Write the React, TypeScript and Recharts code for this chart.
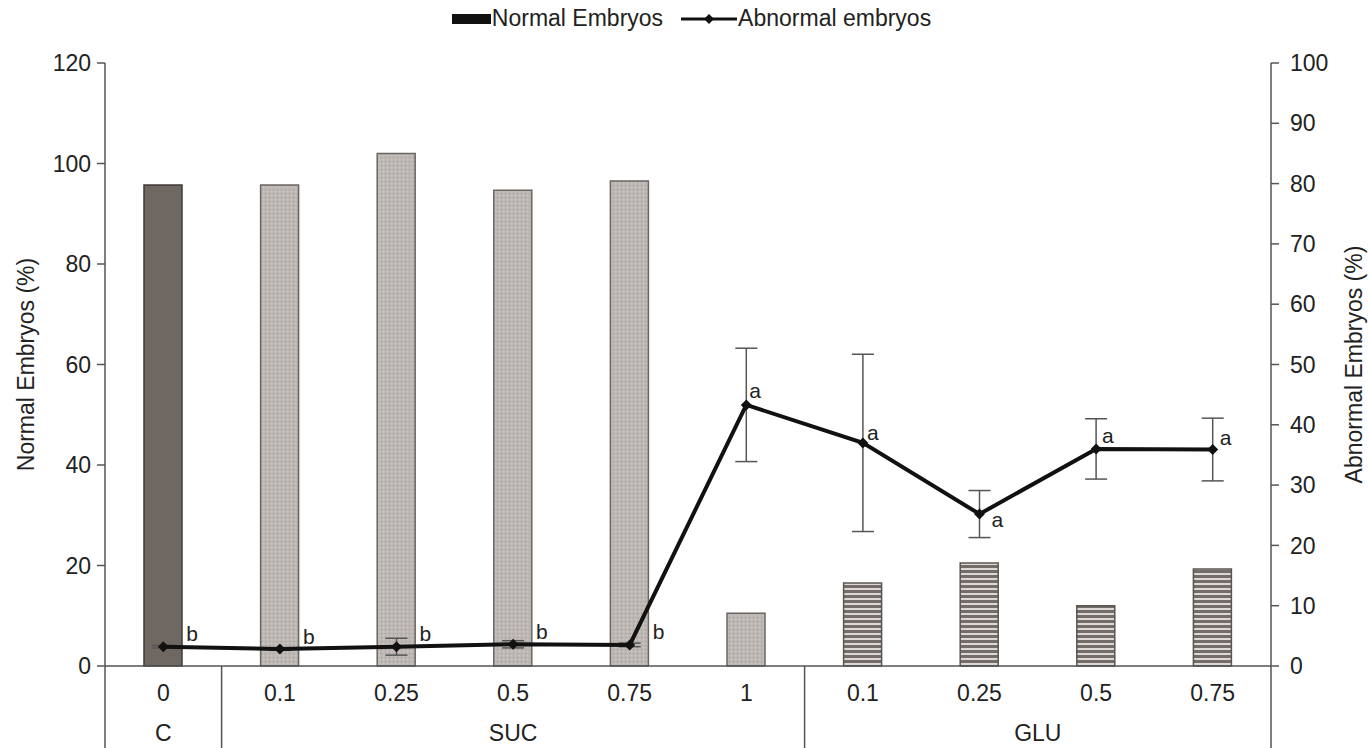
import React from 'react';
import {
  ComposedChart,
  Bar,
  Line,
  XAxis,
  YAxis,
  ErrorBar,
  Cell,
  Legend,
  LabelList
} from 'recharts';

// concentrations on the bottom row, sugar group on the second row
const concentrations = ['0', '0.1', '0.25', '0.5', '0.75', '1', '0.1', '0.25', '0.5', '0.75'];
const sugarGroups = ['C', 'SUC', 'SUC', 'SUC', 'SUC', 'SUC', 'GLU', 'GLU', 'GLU', 'GLU'];
const normalEmbryos = [95.7, 95.7, 102, 94.7, 96.5, 10.5, 16.5, 20.5, 12, 19.3];
const abnormalEmbryos = [3.2, 2.8, 3.2, 3.6, 3.5, 43.3, 37, 25.2, 36, 35.9];
const abnormalError = [0.2, 0.2, 1.4, 0.6, 0.3, 9.4, 14.7, 3.9, 5, 5.2];
const letters = ['b', 'b', 'b', 'b', 'b', 'a', 'a', 'a', 'a', 'a'];
const leftTicks = [0, 20, 40, 60, 80, 100, 120];
const rightTicks = [0, 10, 20, 30, 40, 50, 60, 70, 80, 90, 100];

const W = 1369;
const H = 748;
const LEFT_W = 105;
const RIGHT_W = 98;
const TOP = 63;
const XAXIS_H = 82;
const BAND = (W - LEFT_W - RIGHT_W) / concentrations.length;
const FONT = '"Liberation Sans", Arial, sans-serif';
const FS = 23;
const AXIS_COLOR = '#555';

// letter placement relative to each point (dx, dy)
const LETTER_OFFSETS = [
  [23, -13], [23, -13], [23, -13], [23, -13], [23, -13],
  [3, -14], [4, -10], [12, 5], [6, -13], [7, -12]
];

const groupFill: Record<string, string> = {
  C: '#6f6762',
  SUC: 'url(#dots)',
  GLU: 'url(#stripes)'
};
const groupStroke: Record<string, string> = {
  C: '#3f3a38',
  SUC: '#6a6664',
  GLU: '#5a5552'
};

const data = concentrations.map((c, i) => ({
  key: `${sugarGroups[i]}-${c}`,
  normal: normalEmbryos[i],
  abnormal: abnormalEmbryos[i],
  err: abnormalError[i],
  letter: letters[i]
}));

const CategoryTick = (props: any) => {
  const { x, y, index } = props;
  const group = sugarGroups[index];
  const first = sugarGroups.indexOf(group);
  const count = sugarGroups.filter(g => g === group).length;
  const isLast = index === concentrations.length - 1;
  return (
    <g>
      <text x={x} y={y + 35} textAnchor="middle" fontSize={FS} fontFamily={FONT} fill="#222">
        {concentrations[index]}
      </text>
      {first === index && (
        <>
          <text
            x={x + ((count - 1) / 2) * BAND}
            y={y + 75}
            textAnchor="middle"
            fontSize={FS}
            fontFamily={FONT}
            fill="#222"
          >
            {group}
          </text>
          <line x1={x - BAND / 2} x2={x - BAND / 2} y1={y} y2={H} stroke={AXIS_COLOR} strokeWidth={1.5} />
        </>
      )}
      {isLast && (
        <line x1={x + BAND / 2} x2={x + BAND / 2} y1={y} y2={H} stroke={AXIS_COLOR} strokeWidth={1.5} />
      )}
    </g>
  );
};

const Diamond = (props: any) => {
  const { cx, cy, index } = props;
  if (cx == null || cy == null) return <g key={index} />;
  return (
    <polygon
      key={index}
      points={`${cx},${cy - 5.5} ${cx + 5.5},${cy} ${cx},${cy + 5.5} ${cx - 5.5},${cy}`}
      fill="#111"
    />
  );
};

const LetterLabel = (props: any) => {
  const { x, y, index, value } = props;
  const [dx, dy] = LETTER_OFFSETS[index] || [6, -12];
  return (
    <text
      x={x + dx}
      y={y + dy}
      dominantBaseline="central"
      fontSize={21}
      fontFamily={FONT}
      fill="#222"
    >
      {value}
    </text>
  );
};

const LegendContent = () => (
  <div
    style={{
      display: 'flex',
      justifyContent: 'center',
      alignItems: 'center',
      fontFamily: FONT,
      fontSize: FS,
      color: '#222',
      paddingLeft: 14
    }}
  >
    <svg width={39} height={12} style={{ marginRight: 1 }}>
      <rect x={0} y={1} width={39} height={10} fill="#111" />
    </svg>
    <span>Normal Embryos</span>
    <svg width={74} height={14} style={{ marginRight: 1 }}>
      <line x1={18} x2={74} y1={7} y2={7} stroke="#111" strokeWidth={3} />
      <polygon points="46,2 51,7 46,12 41,7" fill="#111" />
    </svg>
    <span>Abnormal embryos</span>
  </div>
);

const leftTitle = (props: any) => {
  const { viewBox } = props;
  const cx = 26;
  const cy = viewBox.y + viewBox.height / 2;
  return (
    <text
      x={cx}
      y={cy}
      transform={`rotate(-90, ${cx}, ${cy})`}
      textAnchor="middle"
      dominantBaseline="central"
      fontSize={FS}
      fontFamily={FONT}
      fill="#222"
    >
      Normal Embryos (%)
    </text>
  );
};

const rightTitle = (props: any) => {
  const { viewBox } = props;
  const cx = 1354;
  const cy = viewBox.y + viewBox.height / 2;
  return (
    <text
      x={cx}
      y={cy}
      transform={`rotate(-90, ${cx}, ${cy})`}
      textAnchor="middle"
      dominantBaseline="central"
      fontSize={FS}
      fontFamily={FONT}
      fill="#222"
    >
      Abnormal Embryos (%)
    </text>
  );
};

export default function App() {
  return (
    <div style={{ position: 'absolute', left: 0, top: 0, background: '#fff' }}>
      <ComposedChart
        width={W}
        height={H}
        data={data}
        margin={{ top: TOP, right: 0, bottom: 0, left: 0 }}
      >
        <defs>
          <pattern id="dots" width="4" height="4" patternUnits="userSpaceOnUse">
            <rect width="4" height="4" fill="#bfb9b5" />
            <rect x="1" y="1" width="1.2" height="1.2" fill="#a59f9b" />
            <rect x="3" y="3" width="1" height="1" fill="#cdc8c5" />
          </pattern>
          <pattern id="stripes" width="5" height="5" patternUnits="userSpaceOnUse">
            <rect width="5" height="5" fill="#dcd8d5" />
            <rect width="5" height="3" fill="#746c68" />
          </pattern>
        </defs>
        <Legend
          verticalAlign="middle"
          align="center"
          layout="horizontal"
          content={<LegendContent />}
          wrapperStyle={{ top: 5, left: 0, width: W }}
        />
        <XAxis
          dataKey="key"
          height={XAXIS_H}
          tickLine={false}
          tickSize={0}
          tickMargin={0}
          interval={0}
          axisLine={{ stroke: AXIS_COLOR, strokeWidth: 1.5 }}
          tick={<CategoryTick />}
        />
        <YAxis
          yAxisId="left"
          orientation="left"
          width={LEFT_W}
          domain={[0, 120]}
          ticks={leftTicks}
          interval={0}
          tickSize={8}
          tickMargin={6}
          axisLine={{ stroke: AXIS_COLOR, strokeWidth: 1.5 }}
          tickLine={{ stroke: AXIS_COLOR, strokeWidth: 1.5 }}
          tick={{ fontSize: FS, fontFamily: FONT, fill: '#222' }}
          label={leftTitle}
        />
        <YAxis
          yAxisId="right"
          orientation="right"
          width={RIGHT_W}
          domain={[0, 100]}
          ticks={rightTicks}
          interval={0}
          tickSize={8}
          tickMargin={11}
          axisLine={{ stroke: AXIS_COLOR, strokeWidth: 1.5 }}
          tickLine={{ stroke: AXIS_COLOR, strokeWidth: 1.5 }}
          tick={{ fontSize: FS, fontFamily: FONT, fill: '#222' }}
          label={rightTitle}
        />
        <Bar
          yAxisId="left"
          dataKey="normal"
          name="Normal Embryos"
          barSize={38}
          strokeWidth={1.5}
          isAnimationActive={false}
        >
          {data.map((d, i) => (
            <Cell key={d.key} fill={groupFill[sugarGroups[i]]} stroke={groupStroke[sugarGroups[i]]} />
          ))}
        </Bar>
        <Line
          yAxisId="right"
          dataKey="abnormal"
          name="Abnormal embryos"
          stroke="#111"
          strokeWidth={4}
          dot={<Diamond />}
          activeDot={false}
          isAnimationActive={false}
        >
          <ErrorBar dataKey="err" width={11} stroke="#555" strokeWidth={1.5} direction="y" />
          <LabelList dataKey="letter" content={<LetterLabel />} />
        </Line>
      </ComposedChart>
    </div>
  );
}
